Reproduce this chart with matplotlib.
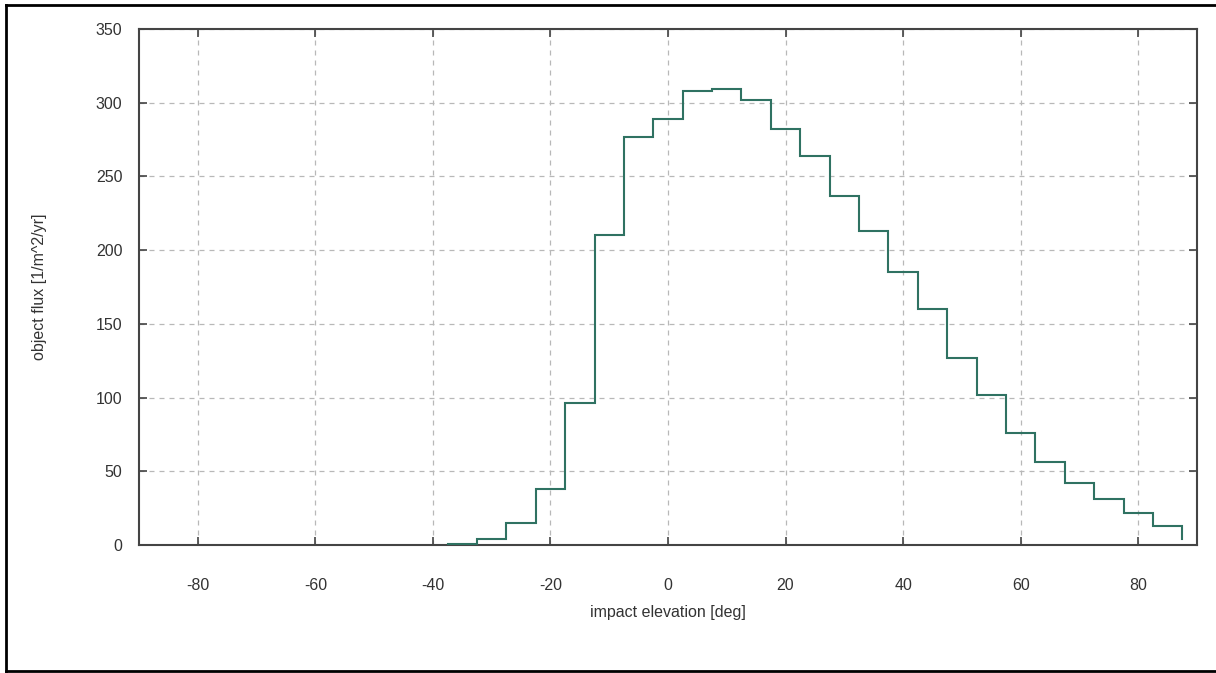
# Impact elevation histogram (step plot)

import numpy as np
import matplotlib.pyplot as plt
from matplotlib.lines import Line2D

# bin centres [deg] and flux per bin
elevation = [-35, -30, -25, -20, -15, -10, -5, 0, 5, 10, 15, 20, 25, 30,
             35, 40, 45, 50, 55, 60, 65, 70, 75, 80, 85]
flux = [1, 4, 15, 38, 96, 210, 277, 289, 308, 309, 302, 282, 264, 237,
        213, 185, 160, 127, 102, 76, 56, 42, 31, 22, 13]
# last sample at the +90 deg edge
end_elevation = 90
end_flux = 4

x_ticks = [-80, -60, -40, -20, 0, 20, 40, 60, 80]
y_ticks = [0, 50, 100, 150, 200, 250, 300, 350]

plt.rcParams['font.family'] = ['Liberation Sans', 'DejaVu Sans']
plt.rcParams['axes.unicode_minus'] = False

W, H = 1216, 673
fig = plt.figure(figsize=(W / 100, H / 100), dpi=100)
ax = fig.add_axes([139 / W, 1 - 545 / H, 1058 / W, 516 / H])

# step edges halfway between centres
centres = np.array(elevation, dtype=float)
half = np.diff(centres).mean() / 2
edges = np.append(centres - half, centres[-1] + half)
xs = np.repeat(edges, 2)[1:-1]
ys = np.repeat(np.array(flux, dtype=float), 2)
# final drop at the last edge
xs = np.append(xs, edges[-1])
ys = np.append(ys, end_flux)
ax.plot(xs, ys, color='#2f7262', lw=1.5, solid_joinstyle='miter', zorder=3)

ax.set_xlim(-90, end_elevation)
ax.set_ylim(0, 350)
ax.set_xticks(x_ticks)
ax.set_yticks(y_ticks)

ax.grid(True, color='#b8b8b8', linestyle=(0, (4, 4)), linewidth=0.9)
ax.set_axisbelow(True)
for s in ax.spines.values():
    s.set_color('#444444')
    s.set_linewidth(1.5)

ax.tick_params(direction='in', length=6, width=1.2, color='#444444',
               top=True, right=True, labelsize=11.5, labelcolor='#333333')
ax.tick_params(axis='x', pad=24)
ax.tick_params(axis='y', pad=12)

ax.set_xlabel('impact elevation [deg]', fontsize=11.5, color='#333333')
ax.set_ylabel('object flux [1/m^2/yr]', fontsize=11.5, color='#333333')
ax.xaxis.set_label_coords(0.5, (545 - 612) / 516, transform=ax.transAxes)
ax.yaxis.set_label_coords((40 - 139) / 1058, 0.5, transform=ax.transAxes)
ax.xaxis.label.set_va('center')
ax.yaxis.label.set_va('center')

# outer frame (left, top, bottom)
for coords in [((6 / W, 6 / W), (0, 1 - 5 / H)),
               ((6 / W, 1), (1 - 5 / H, 1 - 5 / H)),
               ((6 / W, 1), (2 / H, 2 / H))]:
    fig.add_artist(Line2D(coords[0], coords[1], transform=fig.transFigure,
                          color='black', lw=2))

fig.savefig('out.png', dpi=100, facecolor='white')
